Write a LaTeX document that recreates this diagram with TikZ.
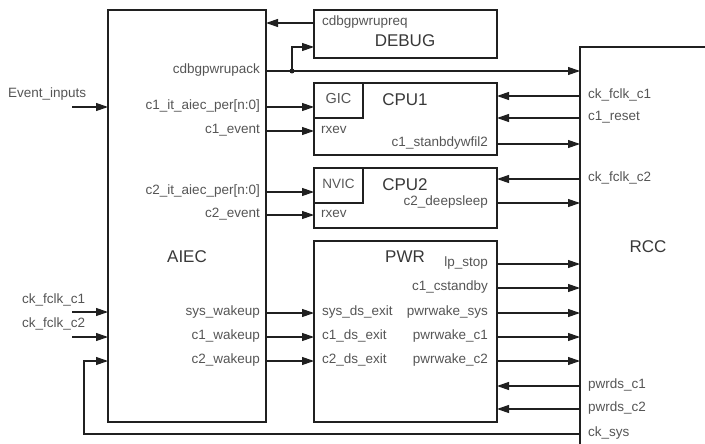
\documentclass[tikz,border=0pt]{standalone}
\usepackage{fontspec}
\setmainfont{Liberation Sans}
\usetikzlibrary{arrows.meta}
\definecolor{txtgray}{HTML}{555555}
\definecolor{linegray}{HTML}{202020}
\begin{document}
\begin{tikzpicture}[x=1pt,y=-1pt,
  blk/.style={draw=linegray,line width=1.3pt,inner sep=0pt,outer sep=0pt},
  sig/.style={text=txtgray,font=\fontsize{13.5}{15}\selectfont,inner sep=0pt,text height=0.72em,text depth=0.2em},
  title/.style={text=black!78,font=\fontsize{17}{20}\selectfont,inner sep=0pt},
  arr/.style={draw=linegray,line width=1.1pt,-{Triangle[length=12pt,width=8pt]}},
  wire/.style={draw=linegray,line width=1.1pt}]
\useasboundingbox (0,0) rectangle (705,444);
\clip (0,0) rectangle (705,444);
% blocks
\node[blk,minimum width=158pt,minimum height=412pt] (aiec) at (187,216) {};
\node[blk,minimum width=183pt,minimum height=48pt] (debug) at (405.5,34) {};
\node[blk,minimum width=183pt,minimum height=72pt] (cpu1) at (405.5,119) {};
\node[blk,minimum width=49pt,minimum height=35pt,anchor=north west] (gic) at (cpu1.north west) {};
\node[blk,minimum width=183pt,minimum height=60pt] (cpu2) at (405.5,198) {};
\node[blk,minimum width=49pt,minimum height=35pt,anchor=north west] (nvic) at (cpu2.north west) {};
\node[blk,minimum width=183pt,minimum height=181pt] (pwr) at (405.5,331.5) {};
\node[blk,minimum width=200pt,minimum height=450pt,anchor=north west] (rcc) at (580,47) {};
% block titles
\node[title] (aiecT) at (187,257) {AIEC};
\node[title] (debugT) at (405,41) {DEBUG};
\node[title] (cpu1T) at (405,100) {CPU1};
\node[title] (cpu2T) at (405,185) {CPU2};
\node[title] (pwrT) at (405,257) {PWR};
\node[title] (rccT) at (648,247) {RCC};
\node[sig,font=\fontsize{14.5}{16}\selectfont] (gicT) at (338.5,100.5) {GIC};
\node[sig,font=\fontsize{13.5}{15}\selectfont] (nvicT) at (338.5,185.5) {NVIC};
% debug
\node[sig,anchor=west] (dbgreq) at (322,23) {cdbgpwrupreq};
\draw[arr] (debug.west |- dbgreq) -- (aiec.east |- dbgreq);
\node[sig,anchor=east] (dbgack) at (260,71) {cdbgpwrupack};
\draw[arr] (aiec.east |- dbgack) -- (rcc.west |- dbgack);
\node[circle,fill=linegray,inner sep=0pt,minimum size=5pt] (jn) at (292,71) {};
\coordinate (ackin) at (314,47);
\draw[arr] (jn.center) |- (ackin);
% left inputs
\node[sig,anchor=west] (evlbl) at (8,95) {Event\_inputs};
\coordinate (evin) at (72,107);
\draw[arr] (evin) -- (aiec.west |- evin);
\node[sig,anchor=west] (fclk1lbl) at (22,301) {ck\_fclk\_c1};
\coordinate (fclk1in) at (72,312);
\draw[arr] (fclk1in) -- (aiec.west |- fclk1in);
\node[sig,anchor=west] (fclk2lbl) at (22,325) {ck\_fclk\_c2};
\coordinate (fclk2in) at (72,337);
\draw[arr] (fclk2in) -- (aiec.west |- fclk2in);
% aiec to cpu1
\node[sig,anchor=east] (c1it) at (260,107) {c1\_it\_aiec\_per[n:0]};
\draw[arr] (aiec.east |- c1it) -- (cpu1.west |- c1it);
\node[sig,anchor=east] (c1ev) at (260,131) {c1\_event};
\node[sig,anchor=west] (rxev1) at (321,131) {rxev};
\draw[arr] (aiec.east |- c1ev) -- (cpu1.west |- c1ev);
\node[sig,anchor=east] (c1wfi) at (488,144) {c1\_stanbdywfil2};
\draw[arr] (cpu1.east |- c1wfi) -- (rcc.west |- c1wfi);
% aiec to cpu2
\node[sig,anchor=east] (c2it) at (260,192) {c2\_it\_aiec\_per[n:0]};
\draw[arr] (aiec.east |- c2it) -- (cpu2.west |- c2it);
\node[sig,anchor=east] (c2ev) at (260,215) {c2\_event};
\node[sig,anchor=west] (rxev2) at (321,215) {rxev};
\draw[arr] (aiec.east |- c2ev) -- (cpu2.west |- c2ev);
\node[sig,anchor=east] (c2ds) at (488,203) {c2\_deepsleep};
\draw[arr] (cpu2.east |- c2ds) -- (rcc.west |- c2ds);
% rcc to cpus
\node[sig,anchor=west] (rfclk1) at (588,96) {ck\_fclk\_c1};
\draw[arr] (rcc.west |- rfclk1) -- (cpu1.east |- rfclk1);
\node[sig,anchor=west] (rrst1) at (588,118) {c1\_reset};
\draw[arr] (rcc.west |- rrst1) -- (cpu1.east |- rrst1);
\node[sig,anchor=west] (rfclk2) at (588,179) {ck\_fclk\_c2};
\draw[arr] (rcc.west |- rfclk2) -- (cpu2.east |- rfclk2);
% aiec to pwr
\node[sig,anchor=east] (syswk) at (260,313) {sys\_wakeup};
\node[sig,anchor=west] (sysex) at (322,313) {sys\_ds\_exit};
\draw[arr] (aiec.east |- syswk) -- (pwr.west |- syswk);
\node[sig,anchor=east] (c1wk) at (260,337) {c1\_wakeup};
\node[sig,anchor=west] (c1ex) at (322,337) {c1\_ds\_exit};
\draw[arr] (aiec.east |- c1wk) -- (pwr.west |- c1wk);
\node[sig,anchor=east] (c2wk) at (260,361) {c2\_wakeup};
\node[sig,anchor=west] (c2ex) at (322,361) {c2\_ds\_exit};
\draw[arr] (aiec.east |- c2wk) -- (pwr.west |- c2wk);
% pwr to rcc
\node[sig,anchor=east] (lpstop) at (488,264) {lp\_stop};
\draw[arr] (pwr.east |- lpstop) -- (rcc.west |- lpstop);
\node[sig,anchor=east] (c1sb) at (488,288) {c1\_cstandby};
\draw[arr] (pwr.east |- c1sb) -- (rcc.west |- c1sb);
\node[sig,anchor=east] (pwsys) at (488,313) {pwrwake\_sys};
\draw[arr] (pwr.east |- pwsys) -- (rcc.west |- pwsys);
\node[sig,anchor=east] (pwc1) at (488,337) {pwrwake\_c1};
\draw[arr] (pwr.east |- pwc1) -- (rcc.west |- pwc1);
\node[sig,anchor=east] (pwc2) at (488,361) {pwrwake\_c2};
\draw[arr] (pwr.east |- pwc2) -- (rcc.west |- pwc2);
\node[sig,anchor=west] (pdc1) at (588,386) {pwrds\_c1};
\draw[arr] (rcc.west |- pdc1) -- (pwr.east |- pdc1);
\node[sig,anchor=west] (pdc2) at (588,409) {pwrds\_c2};
\draw[arr] (rcc.west |- pdc2) -- (pwr.east |- pdc2);
% system clock back to aiec
\node[sig,anchor=west] (cksys) at (588,434) {ck\_sys};
\coordinate (fb) at (84,434);
\draw[arr] (rcc.west |- cksys) -- (fb) |- (aiec.west |- c2wk);
\end{tikzpicture}
\end{document}
